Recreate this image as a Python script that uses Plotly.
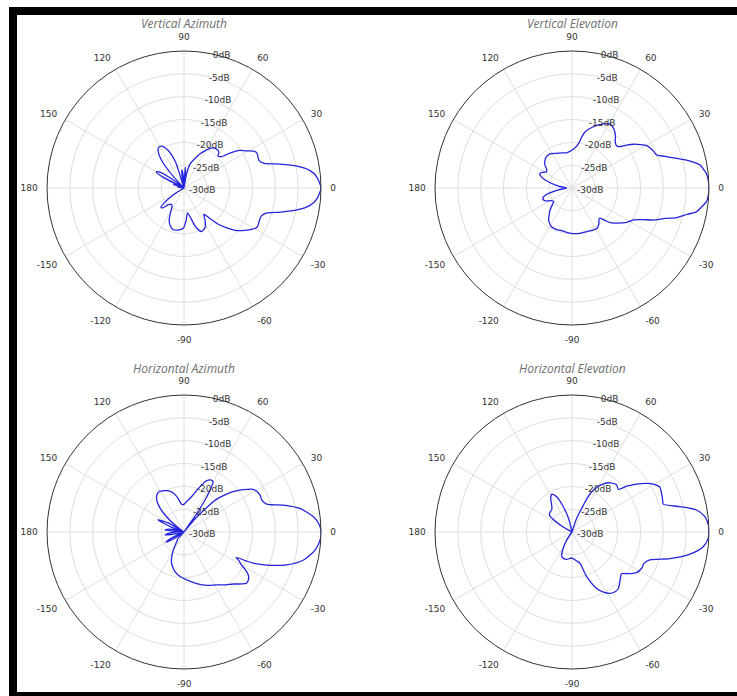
import plotly.graph_objects as go

# ---------------- data (angle in degrees, gain in dB) ----------------
va_theta = [-180, -170, -160, -152, -147, -143, -140, -137, -133, -127, -122, -119, -115, -110, -105, -98, -91,
            -86, -82, -78, -73, -68, -62, -57, -53, -50, -47, -43, -39, -35, -31, -28, -24, -20, -17, -14, -11,
            -8, -5, 0, 5, 8, 11, 14, 17, 20, 23, 26, 28, 31, 34, 37, 40, 43, 46, 50, 55, 60, 65, 70, 76, 80, 83,
            84, 86, 88, 90, 94, 97, 100, 103, 108, 113, 118, 122, 126, 130, 134, 137, 143, 147, 150, 153, 157,
            161, 164, 170, 175, 180]
va_db = [-30, -30, -30, -30, -27, -24.5, -23.4, -23.6, -25, -25.5, -25, -24, -22.3, -21.2, -20.6, -20.7, -21.2,
         -23, -24.5, -23.5, -21, -19.7, -20.2, -21.5, -22.8, -21.5, -19.3, -17.2, -15.2, -13.8, -12.5, -11.8, -12.0,
         -12.0, -11.2, -8.2, -4.8, -2.2, -0.9, 0, -0.9, -2.2, -4.8, -8.3, -11.6, -12.5, -12.4, -12.3, -12.8, -14.2,
         -15.3, -17.2, -19.3, -19.8, -19.0, -18.9, -19.3, -20.5, -21.8, -23.2, -24.6, -27, -30, -28, -25.5, -28,
         -30, -27, -26, -28, -30, -24, -21, -19.6, -19.5, -20.5, -23, -28, -30, -27, -23.5, -23, -25, -30, -27.5,
         -30, -28.5, -30, -30]

ve_theta = [-180, -172, -165, -160, -155, -149, -144, -139, -135, -130, -126, -118, -110, -104, -96, -88, -80, -71,
            -64, -58, -53, -49, -47, -44, -42, -38, -32, -27.5, -24, -21.5, -18, -15.8, -13, -10.7, -8, -5.8, -3, 0,
            3, 6.2, 8, 10.2, 12, 13.7, 15.5, 17.4, 19.5, 21.3, 24, 26, 29.6, 32.5, 35.5, 38.5, 41.7, 44.5, 47, 50,
            53.9, 58.7, 64, 70.8, 77, 79, 81.8, 88, 94, 98.6, 106, 114, 122.9, 130, 135, 139.6, 143, 147, 151, 155,
            158, 165, 172, 180]
ve_db = [-28.8, -27, -24, -23.2, -23.4, -24.6, -25, -24.2, -23.2, -22.2, -21.3, -20.4, -20.3, -20.4, -20.2, -20,
         -19.9, -19.9, -19.7, -19.6, -20.2, -21, -21, -19.6, -18.7, -17.5, -15.8, -14.9, -13, -10.9, -8.5, -6.2,
         -4.2, -2.2, -1.2, -0.4, -0.1, 0, -0.1, -0.4, -0.9, -1.5, -2.8, -4.2, -5.9, -7.5, -9, -10.1, -10.4, -10.6,
         -11.2, -12.3, -13.5, -15, -16.4, -16.5, -16.1, -15.2, -14.3, -13.7, -14.4, -15.8, -17.4, -18.5, -20.3,
         -21.5, -22, -22.2, -22, -21.7, -21.1, -21.2, -21.6, -22.2, -23, -23.4, -22.9, -22.3, -22.5, -24.5, -27,
         -28.8]

ha_theta = [-180, -176, -171, -166, -160, -155, -151, -147, -140, -133, -128, -120.6, -115, -111.5, -107, -102.8,
            -95, -86.8, -80, -73, -66, -58.4, -52, -46.5, -42, -39.3, -36, -33.7, -31.5, -29.8, -27.5, -26, -25,
            -24.3, -21.8, -17.8, -13.2, -7.8, -3, 0, 3, 6.8, 11.5, 15.2, 18.7, 22.4, 25, 27.9, 31.6, 34, 36.9, 39.5,
            41.7, 44, 46, 47.8, 50.5, 52.5, 55, 57, 59.8, 63, 66.4, 69, 73, 78, 85, 91, 95, 100, 105, 111, 116.6,
            121, 125, 130.5, 135, 139, 143, 146, 150, 155, 159, 163, 168, 174, 178, 180]
ha_db = [-28, -27, -25.8, -29, -30, -27.5, -25.5, -27, -30, -28, -27.5, -25.4, -23.5, -22.6, -21.8, -21.1, -20.2,
         -19.5, -18.8, -18, -17.2, -16.4, -15.3, -14.3, -13, -12.3, -12.5, -13.1, -14.3, -15.5, -16.5, -17.3, -15.2,
         -13.4, -10.5, -6.4, -3.1, -1, -0.1, 0, -0.3, -1.5, -4.1, -7.5, -10.9, -11.6, -11.5, -11.6, -12.2, -13.3,
         -14.7, -16.1, -17.5, -19, -20.7, -23.7, -26.8, -30, -25.5, -21, -17.3, -17.2, -17.8, -18.8, -20.5, -22.1,
         -23.3, -24, -23.9, -22.5, -21.2, -20.3, -19.9, -19.6, -19.8, -20.8, -22.6, -25, -28, -30, -26, -23.7, -27,
         -30, -27, -25.8, -29, -28]

he_theta = [-180, -150, -130, -123.7, -117.4, -112.7, -107, -101, -90, -80, -75.7, -71.8, -66.4, -62, -58.2, -55,
            -50.6, -45, -40.2, -36, -32.2, -27.5, -23.5, -19.7, -15.2, -10.6, -6.4, -3, 0, 3, 6.6, 10, 13.2, 17, 19,
            21.4, 24, 26.9, 30.5, 33.5, 36.6, 40, 42.6, 46.7, 52.4, 56.9, 61, 64.7, 67, 71, 75, 90, 100, 104, 109,
            113.5, 118, 122, 127, 132, 137, 143, 150, 160, 180]
he_db = [-30, -30, -30, -27.9, -25.5, -24.2, -23.9, -23.9, -24.3, -23.5, -22.9, -19.7, -16.5, -15, -14.2, -13.9,
         -14, -15.1, -15.8, -14.5, -13.3, -12.8, -12.8, -11.9, -7.8, -3.7, -1.1, -0.2, 0, -0.1, -0.7, -2.3, -5.7,
         -9.1, -9.0, -8.8, -8.6, -8.4, -9.3, -10.7, -12.4, -14.4, -16.2, -15.8, -16.4, -17.4, -18.8, -20.8, -23.6,
         -26.9, -30, -30, -30, -27, -24.2, -21.6, -20.6, -21.2, -22.6, -23.4, -23.5, -23.8, -27.5, -30, -30]

titles = ["Vertical Azimuth", "Vertical Elevation", "Horizontal Azimuth", "Horizontal Elevation"]
series = [(va_theta, va_db), (ve_theta, ve_db), (ha_theta, ha_db), (he_theta, he_db)]

angle_tickvals = [0, 30, 60, 90, 120, 150, 180, 210, 240, 270, 300, 330]
angle_ticktext = ["0", "30", "60", "90", "120", "150", "180", "-150", "-120", "-90", "-60", "-30"]
radial_tickvals = [-30, -25, -20, -15, -10, -5, 0]
radial_ticktext = ["-30dB", "-25dB", "-20dB", "-15dB", "-10dB", "-5dB", "0dB"]

# ---------------- layout ----------------
W, H = 737, 696
R = 137
centers = [(184, 188), (572, 188), (184, 532), (572, 532)]
tick_font = dict(family="DejaVu Sans", size=9, color="#333333")
grid_col = "#dedede"

fig = go.Figure()
annotations = []
for i, ((th, db), title, (cx, cy)) in enumerate(zip(series, titles, centers)):
    name = "polar" if i == 0 else f"polar{i + 1}"
    fig.add_trace(go.Scatterpolar(
        r=db, theta=th, mode="lines", subplot=name, showlegend=False,
        line=dict(color="#2424dc", width=1.3, shape="spline", smoothing=0.7),
        hoverinfo="skip"))
    fig.layout[name] = dict(
        domain=dict(x=[(cx - R) / W, (cx + R) / W], y=[1 - (cy + R) / H, 1 - (cy - R) / H]),
        bgcolor="white",
        angularaxis=dict(rotation=0, direction="counterclockwise", tickmode="array",
                         tickvals=angle_tickvals, ticktext=angle_ticktext,
                         ticks="outside", ticklen=7, tickcolor="rgba(0,0,0,0)",
                         showline=True, linecolor="#333333", linewidth=1,
                         gridcolor=grid_col, gridwidth=1, tickfont=tick_font),
        radialaxis=dict(range=[-30, 0], tickmode="array", tickvals=radial_tickvals,
                        ticktext=radial_ticktext, angle=80, tickangle=80, showline=False, ticks="",
                        gridcolor=grid_col, gridwidth=1, tickfont=tick_font),
    )
    annotations.append(dict(
        text=title, x=cx / W, y=1 - (cy - 164) / H, xref="paper", yref="paper",
        xanchor="center", yanchor="middle", showarrow=False,
        font=dict(family="Open Sans", size=12, color="#6e6e6e", style="italic")))

shapes = [
    dict(type="rect", xref="paper", yref="paper", x0=9 / W, x1=1, y0=1 - 15 / H, y1=1 - 7 / H,
         fillcolor="black", line=dict(width=0)),
    dict(type="rect", xref="paper", yref="paper", x0=9 / W, x1=17 / W, y0=0, y1=1 - 7 / H,
         fillcolor="black", line=dict(width=0)),
    dict(type="rect", xref="paper", yref="paper", x0=17 / W, x1=1, y0=0, y1=4 / H,
         fillcolor="black", line=dict(width=0)),
]

fig.update_layout(width=W, height=H, margin=dict(l=0, r=0, t=0, b=0),
                  paper_bgcolor="white", annotations=annotations, shapes=shapes)
fig.write_html("out.html", config={"displayModeBar": False},
               post_script="document.body.style.margin='0px';")
